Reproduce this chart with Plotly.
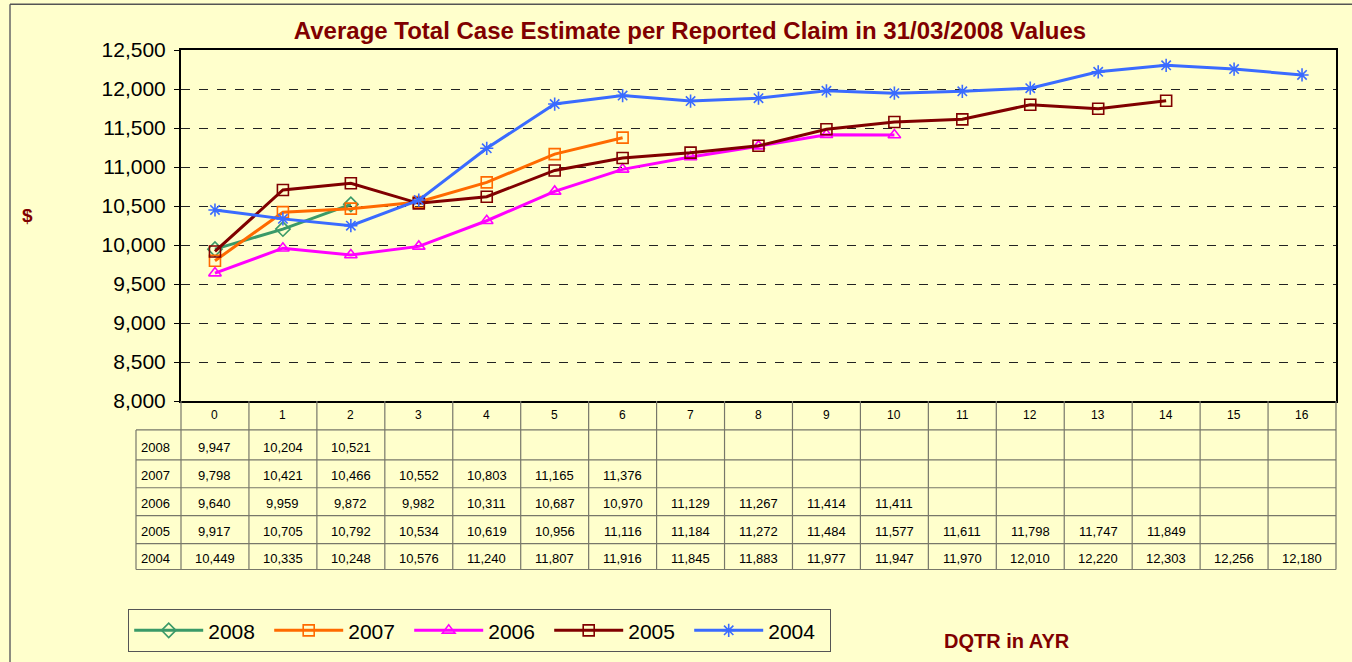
import plotly.graph_objects as go

categories = list(range(17))
series_names = ["2008", "2007", "2006", "2005", "2004"]
v2008 = [9947, 10204, 10521]
v2007 = [9798, 10421, 10466, 10552, 10803, 11165, 11376]
v2006 = [9640, 9959, 9872, 9982, 10311, 10687, 10970, 11129, 11267, 11414, 11411]
v2005 = [9917, 10705, 10792, 10534, 10619, 10956, 11116, 11184, 11272, 11484, 11577,
         11611, 11798, 11747, 11849]
v2004 = [10449, 10335, 10248, 10576, 11240, 11807, 11916, 11845, 11883, 11977, 11947,
         11970, 12010, 12220, 12303, 12256, 12180]
series_values = [v2008, v2007, v2006, v2005, v2004]
y_ticks = [8000, 8500, 9000, 9500, 10000, 10500, 11000, 11500, 12000, 12500]

colors = ["#3A9A68", "#FF6A00", "#FF00FF", "#800000", "#3A6BFF"]
symbols = ["diamond-open", "square-open", "triangle-up-open", "square-open", "asterisk-open"]

BG = "#FFFFCC"
W, H = 1352, 662
L, R, T, B = 181, 16, 50, 260
PH = H - T - B  # 352
PW = W - L - R  # 1155
FONT = "Liberation Sans, Arial"

def py(p):  # pixel y -> paper y
    return (H - B - p) / PH

def pxp(p):  # pixel x -> paper x
    return (p - L) / PW

fig = go.Figure()
for name, vals, c, s in zip(series_names, series_values, colors, symbols):
    fig.add_trace(go.Scatter(
        x=categories[:len(vals)], y=vals, name=name, mode="lines+markers",
        line=dict(color=c, width=3),
        marker=dict(symbol=s, size=11, color=c, line=dict(color=c, width=1.6)),
    ))

shapes = []
anns = []
TL = "#77776a"
# table vertical lines (category boundaries)
for k in range(18):
    xb = k / 17.0
    shapes.append(dict(type="line", xref="paper", yref="paper", x0=xb, x1=xb,
                       y0=py(402), y1=py(571), line=dict(color=TL, width=1.2)))
shapes.append(dict(type="line", xref="paper", yref="paper", x0=pxp(136), x1=pxp(136),
                   y0=py(431), y1=py(571), line=dict(color=TL, width=1.2)))
row_lines = [431, 461, 489, 517, 545, 571]
for r in row_lines:
    shapes.append(dict(type="line", xref="paper", yref="paper", x0=pxp(136), x1=1,
                       y0=py(r), y1=py(r), line=dict(color=TL, width=1.2)))
# outer border (left & top)
shapes.append(dict(type="line", xref="paper", yref="paper", x0=pxp(10), x1=pxp(10),
                   y0=py(4), y1=py(H + 5), line=dict(color="#666", width=1.5)))
shapes.append(dict(type="line", xref="paper", yref="paper", x0=pxp(10), x1=pxp(W + 5),
                   y0=py(4), y1=py(4), line=dict(color="#555", width=1.5)))

# header numbers
for k in categories:
    anns.append(dict(x=k, y=py(416), xref="x", yref="paper", text=str(k), showarrow=False,
                     xanchor="center", yanchor="middle",
                     font=dict(size=12, color="#000", family=FONT)))
row_centers = [449, 477, 505, 533, 560]
for name, vals, yc in zip(series_names, series_values, row_centers):
    anns.append(dict(x=pxp(139), y=py(yc), xref="paper", yref="paper", text=name, showarrow=False,
                     xanchor="left", yanchor="middle",
                     font=dict(size=13, color="#000", family=FONT)))
    for k, v in enumerate(vals):
        anns.append(dict(x=k, y=py(yc), xref="x", yref="paper", text=f"{v:,}", showarrow=False,
                         xanchor="center", yanchor="middle",
                         font=dict(size=13, color="#000", family=FONT)))

anns.append(dict(x=pxp(27), y=py(216), xref="paper", yref="paper", text="<b>$</b>",
                 xanchor="center", yanchor="middle",
                 showarrow=False, font=dict(size=19, color="#800000", family=FONT)))
anns.append(dict(x=pxp(1007), y=py(643), xref="paper", yref="paper", text="<b>DQTR in AYR</b>",
                 xanchor="center", yanchor="middle",
                 showarrow=False, font=dict(size=20, color="#800000", family=FONT)))

fig.update_layout(
    width=W, height=H, margin=dict(l=L, r=R, t=T, b=B),
    paper_bgcolor=BG, plot_bgcolor=BG,
    title=dict(text="<b>Average Total Case Estimate per Reported Claim in 31/03/2008 Values</b>",
               x=690 / W, xanchor="center", y=1 - 31 / H, yanchor="middle",
               font=dict(size=24, color="#800000", family=FONT)),
    showlegend=True,
    legend=dict(orientation="h", x=pxp(128), y=py(609), xanchor="left", yanchor="top",
                bgcolor=BG, bordercolor="#555", borderwidth=1.2,
                font=dict(size=21, color="#000", family=FONT),
                itemwidth=69, entrywidth=56, entrywidthmode="pixels"),
    shapes=shapes, annotations=anns,
)
fig.update_xaxes(range=[-0.5, 16.5], showticklabels=False, showgrid=False, zeroline=False,
                 showline=True, linecolor="#000", linewidth=2, mirror=True, ticks="")
fig.update_yaxes(range=[8000, 12500], tickvals=y_ticks, tickformat=",d",
                 showgrid=True, gridcolor="#222", griddash="dash", gridwidth=1,
                 zeroline=False, showline=True, linecolor="#000", linewidth=2, mirror=True,
                 ticks="outside", ticklen=5, tickcolor="#000", ticklabelstandoff=4,
                 tickfont=dict(size=21, color="#000", family=FONT))

fig.write_html("out.html", post_script="document.body.style.margin='0px';",
               config={"displayModeBar": False})
